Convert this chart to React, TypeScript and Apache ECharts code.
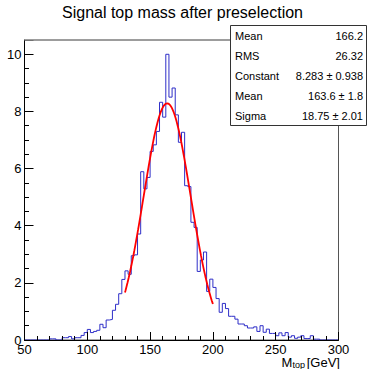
import React, { useEffect, useRef } from "react";
import * as echarts from "echarts";

const FONT = "'Liberation Sans', Arial, Helvetica, sans-serif";

// Histogram binning (axis definition)
const binLow = 50;
const binWidth = 2.5;
// Bin contents, 100 bins from 50 to 300 GeV
const binValues = [
  0, 0, 0, 0, 0, 0, 0, 0, 0.04, 0.04,
  0, 0, 0.08, 0.08, 0.12, 0.04, 0.08, 0.08, 0.16, 0.26,
  0.37, 0.26, 0.3, 0.34, 0.55, 0.43, 0.7, 0.72, 1.04, 1.25,
  1.62, 2.12, 2.42, 2.3, 2.95, 2.98, 3.71, 5.89, 5.29, 5.69,
  6.6, 6.83, 7.3, 8.32, 7.8, 10.0, 8.5, 8.82, 7.88, 6.92,
  7.27, 5.4, 5.37, 4.12, 3.94, 2.4, 2.8, 3.08, 1.7, 2.13,
  1.84, 1.45, 0.97, 1.28, 1.1, 0.83, 0.83, 0.73, 0.56, 0.56,
  0.5, 0.42, 0.42, 0.46, 0.3, 0.5, 0.27, 0.38, 0.23, 0.23,
  0.15, 0.25, 0.15, 0.26, 0.1, 0.15, 0.06, 0.1, 0.15, 0.05,
  0.05, 0.15, 0.03, 0.03, 0, 0, 0, 0, 0, 0,
];

// Gaussian fit results (as shown in the stats box)
const fitConstant = 8.283;
const fitMean = 163.6;
const fitSigma = 18.75;
const fitRange = [130, 200];

const xTicks = [50, 100, 150, 200, 250, 300];
const yTicks = [0, 2, 4, 6, 8, 10];

const statsLabels = ["Mean", "RMS", "Constant", "Mean", "Sigma"];
const statsValues = ["166.2", "26.32", "8.283 \u00b1 0.938", "163.6 \u00b1 1.8", "18.75 \u00b1 2.01"];

const titleText = "Signal top mass after preselection";

export default function App() {
  const ref = useRef<HTMLDivElement>(null);
  useEffect(() => {
    if (!ref.current) return;
    const chart = echarts.init(ref.current, undefined, { renderer: "svg" });

    const histData: number[][] = binValues.map((v, i) => [binLow + binWidth * i, v]);
    histData.push([binLow + binWidth * binValues.length, binValues[binValues.length - 1]]);

    const fitData: number[][] = [];
    for (let x = fitRange[0]; x <= fitRange[1] + 1e-9; x += 0.5) {
      fitData.push([x, fitConstant * Math.exp(-0.5 * Math.pow((x - fitMean) / fitSigma, 2))]);
    }

    const rowH = 20;
    const boxX = 230.5, boxY = 25.5, boxW = 136, boxH = 100;
    const statsGraphics: any[] = [];
    statsLabels.forEach((lab, i) => {
      const cy = boxY + rowH * i + rowH / 2;
      statsGraphics.push({
        type: "text", x: boxX + 4.5, y: cy, z: 101,
        style: { text: lab, font: `11px ${FONT}`, fill: "#000", textAlign: "left", textVerticalAlign: "middle" },
      });
      statsGraphics.push({
        type: "text", x: boxX + boxW - 3.5, y: cy, z: 101,
        style: { text: statsValues[i], font: `11px ${FONT}`, fill: "#000", textAlign: "right", textVerticalAlign: "middle" },
      });
    });

    chart.setOption({
      animation: false,
      backgroundColor: "#fff",
      grid: {
        left: 24.5, right: 30.5, top: 40, bottom: 29,
        show: true, borderColor: "#555", borderWidth: 1, backgroundColor: "transparent",
      },
      xAxis: [
        {
          type: "value", min: xTicks[0], max: xTicks[xTicks.length - 1], interval: 50, z: 10,
          axisLine: { show: true, onZero: false, lineStyle: { color: "#000", width: 1 } },
          axisTick: { show: true, inside: true, length: 8, lineStyle: { color: "#000" } },
          minorTick: { show: true, splitNumber: 5, length: 4, lineStyle: { color: "#000" } },
          axisLabel: { fontFamily: FONT, fontSize: 13, color: "#000", margin: 3 },
          splitLine: { show: false },
        },
      ],
      yAxis: [
        {
          type: "value", min: 0, max: 10.5, interval: 0.5, z: 10,
          axisLine: { show: true, onZero: false, lineStyle: { color: "#000", width: 1 } },
          axisTick: { show: true, inside: true, length: 4.5, lineStyle: { color: "#000" } },
          axisLabel: {
            fontFamily: FONT, fontSize: 13, color: "#000", margin: 3,
            formatter: (v: number) => (yTicks.indexOf(v) >= 0 ? String(v) : ""),
          },
          splitLine: { show: false },
        },
        {
          type: "value", min: 0, max: 10.5, interval: 2, z: 10, position: "left",
          axisLine: { show: false },
          axisTick: { show: true, inside: true, length: 9, lineStyle: { color: "#000" } },
          axisLabel: { show: false },
          splitLine: { show: false },
        },
      ],
      series: [
        {
          type: "line", step: "end", data: histData, xAxisIndex: 0, yAxisIndex: 0,
          symbol: "none", lineStyle: { color: "#2e2ec8", width: 1 }, z: 3,
        },
        {
          type: "line", data: fitData, xAxisIndex: 0, yAxisIndex: 0,
          symbol: "none", smooth: false, lineStyle: { color: "#ff0000", width: 1.8 }, z: 4,
        },
      ],
      graphic: [
        {
          type: "text", x: 182.5, y: 12, z: 100,
          style: { text: titleText, font: `16px ${FONT}`, fill: "#000", textAlign: "center", textVerticalAlign: "middle" },
        },
        {
          type: "line", z: 99,
          shape: { x1: 24.5, y1: 40, x2: 231, y2: 40 },
          style: { stroke: "#999", lineWidth: 1.6 },
        },
        {
          type: "rect", z: 100,
          shape: { x: boxX, y: boxY, width: boxW, height: boxH },
          style: { fill: "#fff", stroke: "#333", lineWidth: 1 },
        },
        ...statsGraphics,
        {
          type: "text", x: 281.5, y: 362, z: 100,
          style: { text: "M", font: `13px ${FONT}`, fill: "#000", textAlign: "left", textVerticalAlign: "middle" },
        },
        {
          type: "text", x: 292.5, y: 365, z: 100,
          style: { text: "top", font: `9px ${FONT}`, fill: "#000", textAlign: "left", textVerticalAlign: "middle" },
        },
        {
          type: "text", x: 340, y: 362, z: 100,
          style: { text: "[GeV]", font: `13px ${FONT}`, fill: "#000", textAlign: "right", textVerticalAlign: "middle" },
        },
      ],
    });
    return () => chart.dispose();
  }, []);
  return <div ref={ref} style={{ position: "absolute", left: 0, top: 0, width: 369, height: 369 }} />;
}
